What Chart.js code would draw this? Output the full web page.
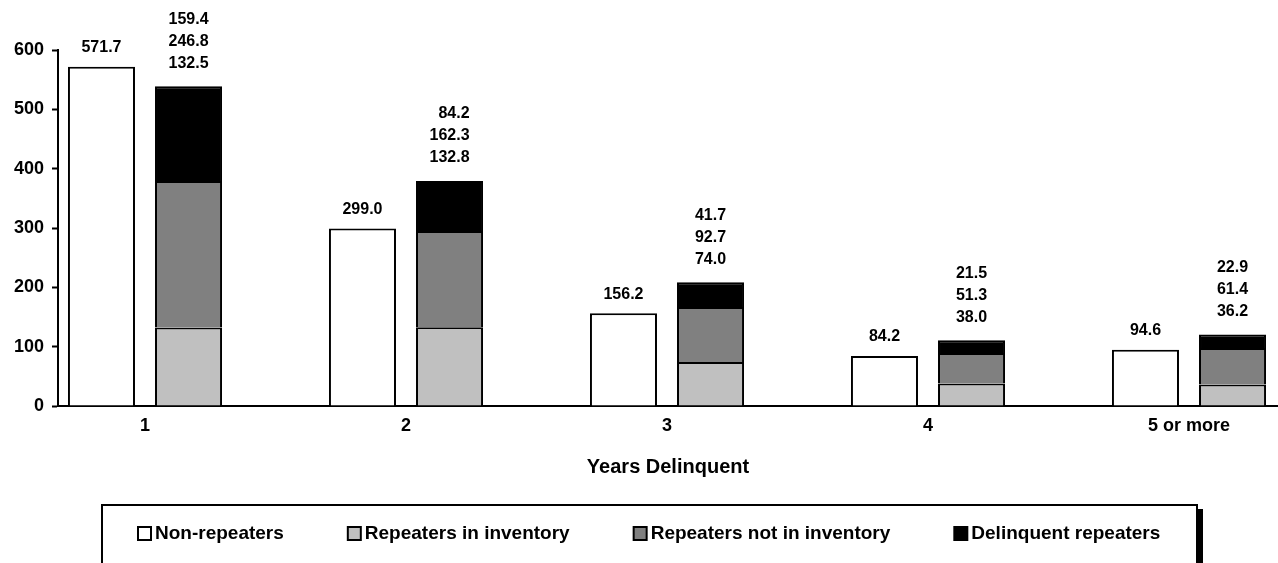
<!DOCTYPE html>
<html lang="en">
<head>
<meta charset="UTF-8">
<title>Years Delinquent</title>
<script src="https://cdn.jsdelivr.net/npm/chart.js@4.4.0/dist/chart.umd.min.js"></script>
<style>
  html, body { margin: 0; padding: 0; background: #fff; }
  #wrap { width: 1278px; height: 563px; overflow: hidden; }
</style>
</head>
<body>
<div id="wrap"><canvas id="chart" width="1278" height="563"></canvas></div>
<script>
const categories = ['1', '2', '3', '4', '5 or more'];
const nonRepeaters = [571.7, 299.0, 156.2, 84.2, 94.6];
const inInventory = [132.5, 132.8, 74.0, 38.0, 36.2];
const notInInventory = [246.8, 162.3, 92.7, 51.3, 61.4];
const delinquent = [159.4, 84.2, 41.7, 21.5, 22.9];
const yTicks = [0, 100, 200, 300, 400, 500, 600];
const seriesNames = ['Non-repeaters', 'Repeaters in inventory', 'Repeaters not in inventory', 'Delinquent repeaters'];
const seriesColors = ['#ffffff', '#c0c0c0', '#808080', '#000000'];

const FONT = "'Liberation Sans', Arial, sans-serif";

function points(values) {
    return values.map((v, i) => ({ x: i + 1, y: v }));
}

// numbers above the bars; the stacked bar gets three lines, top segment first
const valueLabels = {
    id: 'valueLabels',
    afterDatasetsDraw(chart) {
        const ctx = chart.ctx;
        ctx.save();
        ctx.font = 'bold 16px ' + FONT;
        ctx.fillStyle = '#000';
        ctx.textBaseline = 'middle';
        const white = chart.getDatasetMeta(0).data;
        const top = chart.getDatasetMeta(3).data;
        categories.forEach((c, i) => {
            ctx.textAlign = 'center';
            ctx.fillText(nonRepeaters[i].toFixed(1), white[i].x, white[i].y - 19);
            const lines = [delinquent[i], notInInventory[i], inInventory[i]].map(v => v.toFixed(1));
            const w = Math.max(...lines.map(s => ctx.measureText(s).width));
            ctx.textAlign = 'right';
            lines.forEach((s, k) => {
                ctx.fillText(s, top[i].x + w / 2, top[i].y - 23 - (2 - k) * 22);
            });
        });
        ctx.restore();
    }
};

// boxed legend with a shadow on the right side
const boxLegend = {
    id: 'boxLegend',
    afterDraw(chart) {
        const ctx = chart.ctx;
        ctx.save();
        ctx.fillStyle = '#000';
        ctx.fillRect(1197, 509, 6, 60);
        ctx.fillStyle = '#fff';
        ctx.fillRect(102, 505, 1095, 70);
        ctx.lineWidth = 2;
        ctx.strokeStyle = '#000';
        ctx.strokeRect(102, 505, 1095, 70);
        ctx.font = 'bold 19px ' + FONT;
        ctx.textBaseline = 'middle';
        ctx.textAlign = 'left';
        let x = 138;
        chart.data.datasets.forEach(ds => {
            ctx.fillStyle = ds.backgroundColor;
            ctx.fillRect(x, 527, 13, 13);
            ctx.strokeRect(x, 527, 13, 13);
            ctx.fillStyle = '#000';
            ctx.fillText(ds.label, x + 17, 534);
            x += 17 + ctx.measureText(ds.label).width + 64;
        });
        ctx.restore();
    }
};

new Chart(document.getElementById('chart'), {
    type: 'bar',
    data: {
        datasets: [
            { label: seriesNames[0], data: points(nonRepeaters), backgroundColor: seriesColors[0], stack: 'a' },
            { label: seriesNames[1], data: points(inInventory), backgroundColor: seriesColors[1], stack: 'b' },
            { label: seriesNames[2], data: points(notInInventory), backgroundColor: seriesColors[2], stack: 'b' },
            { label: seriesNames[3], data: points(delinquent), backgroundColor: seriesColors[3], stack: 'b' }
        ]
    },
    options: {
        responsive: false,
        animation: false,
        devicePixelRatio: 1,
        layout: { padding: { top: 50, right: 0, bottom: 0, left: 0 } },
        datasets: {
            bar: { categoryPercentage: 0.667, barPercentage: 0.77, borderColor: '#000', borderWidth: 2 }
        },
        plugins: {
            legend: { display: false },
            tooltip: { enabled: false }
        },
        scales: {
            x: {
                type: 'linear',
                min: 2 / 3,
                max: 5.341,
                offset: false,
                afterBuildTicks: s => { s.ticks = categories.map((c, i) => ({ value: i + 1 })); },
                afterFit: s => { s.height = 157; },
                grid: { display: true, offset: false, drawOnChartArea: false, drawTicks: false },
                border: { color: '#000', width: 2 },
                ticks: {
                    color: '#000',
                    font: { size: 18, weight: 'bold', family: FONT },
                    padding: 9,
                    maxRotation: 0,
                    autoSkip: false,
                    callback: v => categories[Math.round(v) - 1]
                },
                title: {
                    display: true,
                    text: 'Years Delinquent',
                    color: '#000',
                    font: { size: 20, weight: 'bold', family: FONT },
                    padding: { top: 0, bottom: 84 }
                }
            },
            y: {
                stacked: true,
                min: 0,
                max: 600,
                afterBuildTicks: s => { s.ticks = yTicks.map(v => ({ value: v })); },
                afterFit: s => { s.width = 58; },
                grid: { drawOnChartArea: false, drawTicks: true, tickLength: 6, tickColor: '#000', tickWidth: 2 },
                border: { color: '#000', width: 2 },
                ticks: {
                    color: '#000',
                    font: { size: 18, weight: 'bold', family: FONT },
                    padding: 8
                }
            }
        }
    },
    plugins: [valueLabels, boxLegend]
});
</script>
</body>
</html>
